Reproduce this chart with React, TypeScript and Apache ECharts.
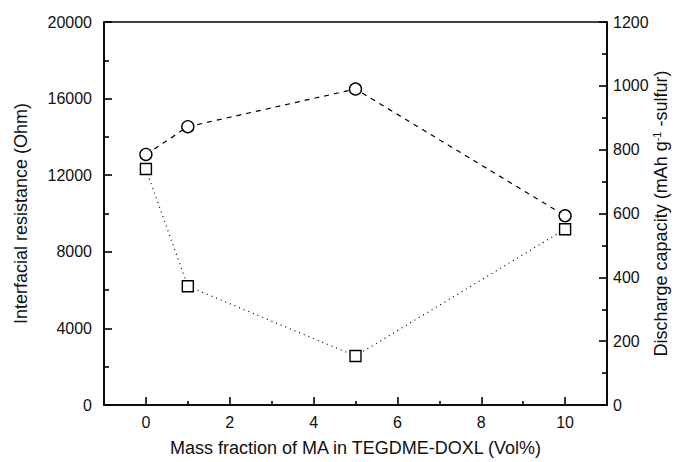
import React, { useEffect, useRef } from "react";
import * as echarts from "echarts";

const massFraction = [0, 1, 5, 10];
const resistance = [12320, 6200, 2560, 9180];
const capacity = [785, 872, 990, 593];
const xMajorTicks = [0, 2, 4, 6, 8, 10];
const xMinorTicks = [1, 3, 5, 7, 9];

export default function App() {
  const ref = useRef<HTMLDivElement>(null);
  useEffect(() => {
    if (!ref.current) return;
    const chart = echarts.init(ref.current, null, { renderer: "svg" });
    const font = "'Liberation Sans', Arial, Helvetica, sans-serif";
    const lineStyle = { color: "#000", width: 1.6 };
    const plain = (v: number) => String(v);
    chart.setOption({
      animation: false,
      backgroundColor: "#fff",
      grid: {
        left: 104,
        right: 70,
        top: 22,
        bottom: 57,
        show: true,
        borderColor: "#000",
        borderWidth: 1.6,
        outerBoundsMode: "none",
        containLabel: false,
      },
      xAxis: [
        {
          type: "value",
          min: -1,
          max: 11,
          position: "bottom",
          name: "Mass fraction of MA in TEGDME-DOXL (Vol%)",
          nameLocation: "middle",
          nameGap: 34,
          nameTextStyle: { fontFamily: font, fontSize: 18, color: "#111" },
          axisLine: { show: true, onZero: false, lineStyle },
          axisTick: { show: true, inside: true, length: 8, customValues: xMajorTicks, lineStyle },
          axisLabel: { customValues: xMajorTicks, margin: 9, fontFamily: font, fontSize: 16, color: "#111", formatter: plain },
          splitLine: { show: false },
        },
        {
          type: "value",
          min: -1,
          max: 11,
          position: "bottom",
          axisLine: { show: false, onZero: false },
          axisTick: { show: true, inside: true, length: 4, customValues: xMinorTicks, lineStyle },
          axisLabel: { show: false },
          splitLine: { show: false },
        },
      ],
      yAxis: [
        {
          type: "value",
          min: 0,
          max: 20000,
          interval: 4000,
          position: "left",
          name: "Interfacial resistance (Ohm)",
          nameLocation: "middle",
          nameGap: 74,
          nameRotate: 90,
          nameTextStyle: { fontFamily: font, fontSize: 18, color: "#111" },
          axisLine: { show: true, onZero: false, lineStyle },
          axisTick: { show: true, inside: true, length: 8, lineStyle },
          minorTick: { show: true, splitNumber: 2, length: 5, lineStyle },
          axisLabel: { margin: 12, fontFamily: font, fontSize: 16, color: "#111", formatter: plain },
          splitLine: { show: false },
        },
        {
          type: "value",
          min: 0,
          max: 1200,
          interval: 200,
          position: "right",
          name: "{a|Discharge capacity (mAh g}{s|-1}{a| -sulfur)}",
          nameLocation: "middle",
          nameGap: 44,
          nameRotate: 90,
          nameMoveOverlap: false,
          nameTextStyle: {
            fontFamily: font,
            fontSize: 18,
            color: "#111",
            rich: {
              a: { fontFamily: font, fontSize: 18, lineHeight: 20, color: "#111" },
              s: { fontFamily: font, fontSize: 11, lineHeight: 20, color: "#111", verticalAlign: "top" },
            },
          },
          axisLine: { show: true, onZero: false, lineStyle },
          axisTick: { show: true, inside: true, length: 8, lineStyle },
          minorTick: { show: true, splitNumber: 2, length: 5, lineStyle },
          axisLabel: { margin: 6, fontFamily: font, fontSize: 16, color: "#111", formatter: plain },
          splitLine: { show: false },
        },
      ],
      series: [
        {
          name: "Interfacial resistance",
          type: "line",
          xAxisIndex: 0,
          yAxisIndex: 0,
          data: massFraction.map((x, i) => [x, resistance[i]]),
          symbol: "rect",
          symbolSize: 11,
          itemStyle: { color: "#fff", borderColor: "#000", borderWidth: 1.4 },
          lineStyle: { color: "#000", width: 1.2, type: [1, 4] },
        },
        {
          name: "Discharge capacity",
          type: "line",
          xAxisIndex: 0,
          yAxisIndex: 1,
          data: massFraction.map((x, i) => [x, capacity[i]]),
          symbol: "circle",
          symbolSize: 12,
          itemStyle: { color: "#fff", borderColor: "#000", borderWidth: 1.4 },
          lineStyle: { color: "#000", width: 1.2, type: [5, 5] },
        },
      ],
    });
    return () => chart.dispose();
  }, []);
  return <div ref={ref} style={{ width: 677, height: 462, position: "absolute", left: 0, top: 0 }} />;
}
